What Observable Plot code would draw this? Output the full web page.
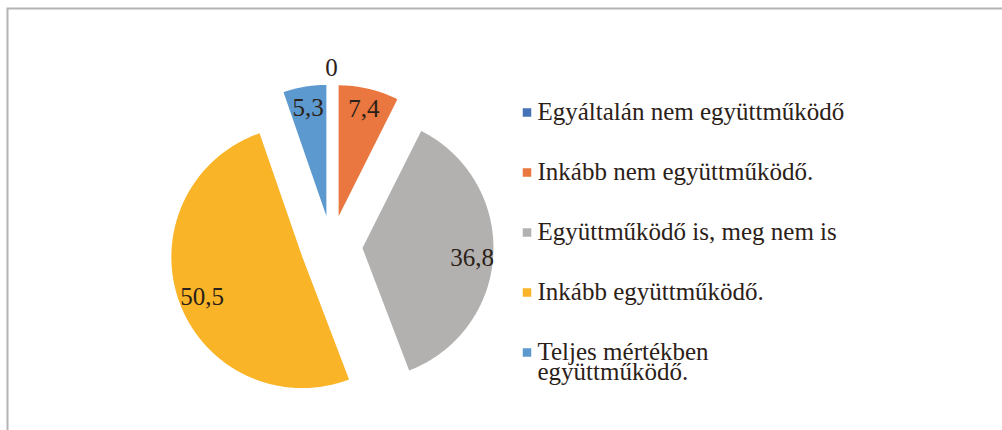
<!DOCTYPE html>
<html><head><meta charset="utf-8">
<script src="https://cdn.jsdelivr.net/npm/d3@7"></script>
<script src="https://cdn.jsdelivr.net/npm/@observablehq/plot@0.6"></script>
<style>
body{margin:0;background:#fff;overflow:hidden;font-family:"Liberation Serif",serif;}
#wrap{position:relative;width:1002px;height:430px;}
#pre{position:absolute;left:0;top:0;font-family:"Liberation Serif";font-size:25px;color:transparent;pointer-events:none;}
#chart svg text, #chart svg tspan{font-family:"Liberation Serif",serif;}
</style></head><body><div id="wrap"><span id="pre">&nbsp;</span><div id="chart"></div></div>
<script>
// ---- data ----
const categories = ["Egyáltalán nem együttműködő", "Inkább nem együttműködő.", "Együttműködő is, meg nem is", "Inkább együttműködő.", "Teljes mértékben\negyüttműködő."];
const values = [0, 7.4, 36.8, 50.5, 5.3];
const valueLabels = ["0", "7,4", "36,8", "50,5", "5,3"];
const colors = ["#4673b8", "#e9773f", "#b2b1b0", "#f9b428", "#5c99cf"];

// ---- layout ----
const W = 1002, H = 430;
const mL = 7, mT = 8, mR = -12, mB = -12;   // frame: left/top edges visible only
const cx = 331, cy = 246, R = 131;          // pie centre & radius (px)
const explode = 31 / R;                      // explosion offset (units of radius)
const fontSize = 25;
const serif = "Liberation Serif";
const textColor = "#2b2118";

const arcs = d3.pie().sort(null).value(d => d)(values);
const slicePts = [];
arcs.forEach((a, i) => {
  if (a.endAngle - a.startAngle <= 0) return;
  const m = (a.startAngle + a.endAngle) / 2;
  const ox = explode * Math.sin(m), oy = -explode * Math.cos(m);
  slicePts.push({cat: categories[i], x: ox, y: oy});
  const n = Math.max(2, Math.ceil((a.endAngle - a.startAngle) / 0.01));
  for (let k = 0; k <= n; k++) {
    const t = a.startAngle + (a.endAngle - a.startAngle) * k / n;
    slicePts.push({cat: categories[i], x: ox + Math.sin(t), y: oy - Math.cos(t)});
  }
  slicePts.push({cat: categories[i], x: ox, y: oy});
});

const labels = arcs.map((a, i) => {
  const m = (a.startAngle + a.endAngle) / 2;
  const r = values[i] > 0 ? (i === 3 ? 1.05 : 1.075) : 1.365;
  const drop = (i === 2 || i === 3) ? 0.03 : 0;
  return {text: valueLabels[i], x: r * Math.sin(m), y: -r * Math.cos(m) + drop};
});

// legend (layout in px, converted to pie units)
const legX = 526.5, legTextX = 537, legBase0 = 123, legStep = 60;
const legend = categories.map((c, i) => ({
  cat: c,
  sx: (legX - cx) / R,
  tx: (legTextX - cx) / R,
  sy: (legBase0 + legStep * i - 11 - cy) / R,
  ty: (legBase0 + legStep * i - 0.71 * fontSize - cy) / R
}));

const chart = Plot.plot({
  width: W, height: H,
  marginLeft: mL, marginTop: mT, marginRight: mR, marginBottom: mB,
  x: {domain: [(mL - cx) / R, (W - mR - cx) / R], range: [mL, W - mR], axis: null},
  y: {domain: [(mT - cy) / R, (H - mB - cy) / R], range: [mT, H - mB], axis: null},
  color: {domain: categories, range: colors},
  style: {fontFamily: serif, background: "white"},
  marks: [
    Plot.frame({stroke: "#b4b4b4", strokeWidth: 2}),
    Plot.line(slicePts, {x: "x", y: "y", z: "cat", fill: "cat", stroke: "none", curve: "linear"}),
    Plot.text(labels, {x: "x", y: "y", text: "text", fontFamily: serif, fontSize: fontSize, fill: textColor, textAnchor: "middle", lineAnchor: "middle"}),
    Plot.dot(legend, {x: "sx", y: "sy", fill: "cat", symbol: "square", r: 4.8, stroke: "none"}),
    Plot.text(legend, {x: "tx", y: "ty", text: "cat", fontFamily: serif, fontSize: fontSize, fill: textColor, textAnchor: "start", lineAnchor: "top", lineHeight: 0.8})
  ]
});
document.getElementById("chart").appendChild(chart);
</script>
</body></html>
